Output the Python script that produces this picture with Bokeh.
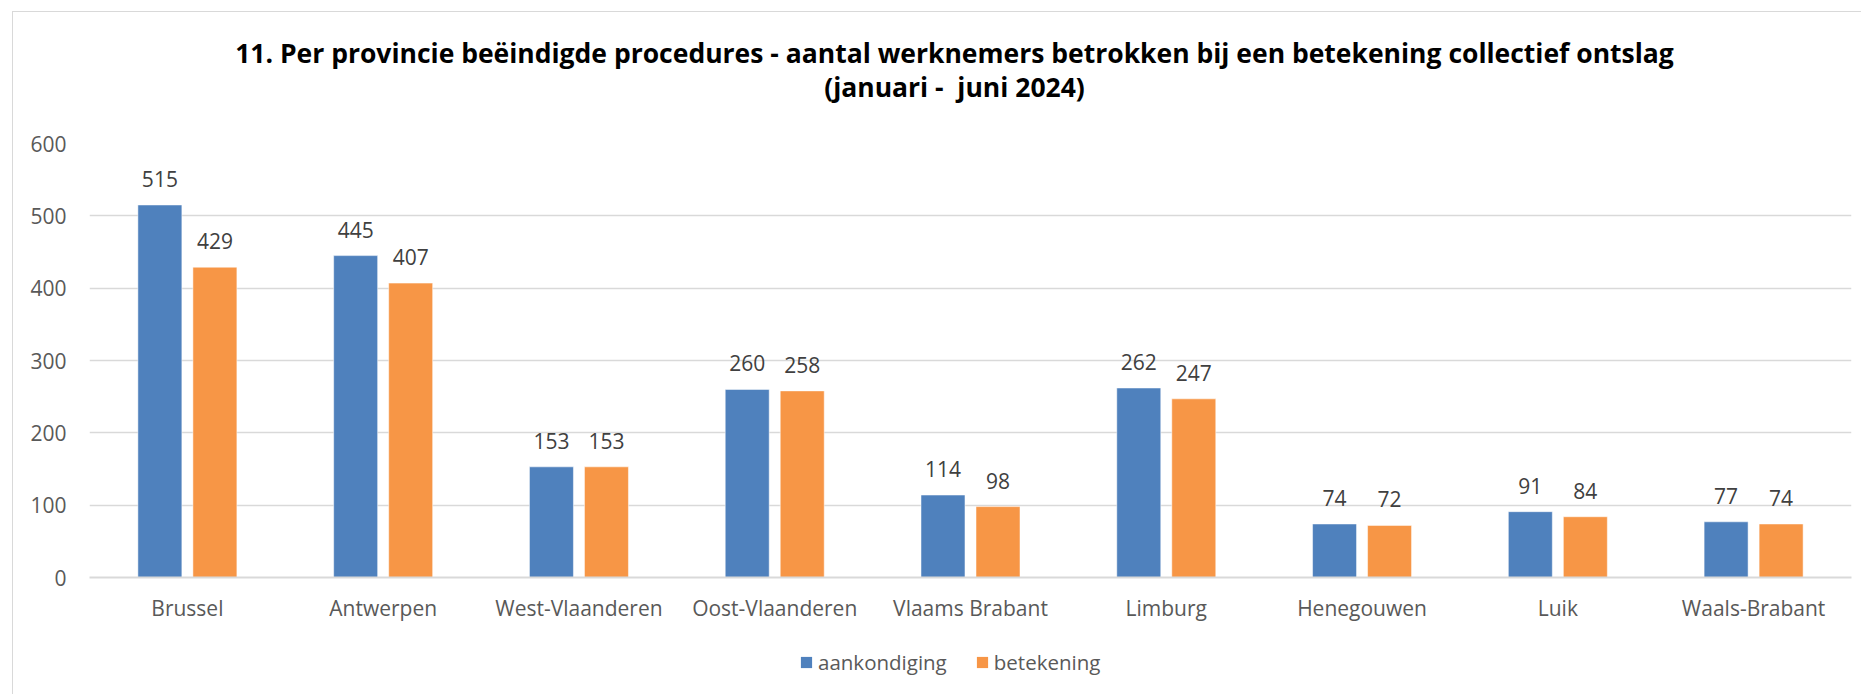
from bokeh.plotting import figure
from bokeh.layouts import column
from bokeh.models import (ColumnDataSource, FactorRange, Range1d, FixedTicker, Legend, LegendItem)
from bokeh.transform import dodge
from bokeh.core.properties import value
from bokeh.embed import file_html
from bokeh.resources import INLINE

categories = ["Brussel", "Antwerpen", "West-Vlaanderen", "Oost-Vlaanderen", "Vlaams Brabant",
              "Limburg", "Henegouwen", "Luik", "Waals-Brabant"]
aankondiging = [515, 445, 153, 260, 114, 262, 74, 91, 77]
betekening = [429, 407, 153, 258, 98, 247, 72, 84, 74]
series_names = ["aankondiging", "betekening"]
y_ticks = [0, 100, 200, 300, 400, 500, 600]
title_lines = ["11. Per provincie beëindigde procedures - aantal werknemers betrokken bij een betekening collectief ontslag",
               "(januari -\u00a0 juni 2024)"]

BLUE = "#4F81BD"
ORANGE = "#F79646"
FONT = "Open Sans"
W = 1848
FRAME_W = 1762  # frames of the stacked figures are aligned to the main chart's frame

# ---------------- title strip ----------------
pt = figure(width=W, height=110, x_range=Range1d(0, FRAME_W), y_range=Range1d(110, 0),
            min_border=0, x_axis_location=None, y_axis_location=None,
            output_backend="svg", toolbar_location=None)
pt.grid.visible = False
pt.outline_line_color = None
pt.text(x=[865, 865], y=[40, 74], text=title_lines, text_align="center",
        text_baseline="alphabetic", text_font=value(FONT), text_font_style="bold",
        text_font_size="26.5px", text_color="black")

# ---------------- main chart ----------------
src = ColumnDataSource(dict(
    cat=categories,
    a=aankondiging,
    b=betekening,
    a_txt=[str(v) for v in aankondiging],
    b_txt=[str(v) for v in betekening],
))

p = figure(
    x_range=FactorRange(*categories),
    y_range=Range1d(0, 600),
    width=W, height=515,
    min_border_left=76, min_border_top=21, min_border_right=10, min_border_bottom=60,
    output_backend="svg", toolbar_location=None,
)
p.outline_line_color = None
p.background_fill_color = "white"

bw = 0.2247
off = 0.1405
ra = p.vbar(x=dodge("cat", -off, range=p.x_range), top="a", width=bw, source=src,
            fill_color=BLUE, line_color="white", line_alpha=0.5, line_width=1)
rb = p.vbar(x=dodge("cat", off, range=p.x_range), top="b", width=bw, source=src,
            fill_color=ORANGE, line_color="white", line_alpha=0.5, line_width=1)

p.text(x=dodge("cat", -off, range=p.x_range), y="a", text="a_txt", source=src,
       text_align="center", text_baseline="alphabetic", y_offset=-26,
       text_font=value(FONT), text_font_size="21px", text_color="#404040")
p.text(x=dodge("cat", off, range=p.x_range), y="b", text="b_txt", source=src,
       text_align="center", text_baseline="alphabetic", y_offset=-26,
       text_font=value(FONT), text_font_size="21px", text_color="#404040")

p.yaxis.ticker = FixedTicker(ticks=y_ticks)
p.yaxis.axis_line_color = None
p.yaxis.major_tick_line_color = None
p.yaxis.minor_tick_line_color = None
p.yaxis.major_tick_out = 0
p.yaxis.major_label_standoff = 23
p.yaxis.major_label_text_font = FONT
p.yaxis.major_label_text_font_size = "21px"
p.yaxis.major_label_text_color = "#595959"

p.xaxis.axis_line_color = "#D9D9D9"
p.xaxis.axis_line_width = 2
p.xaxis.major_tick_line_color = None
p.xaxis.minor_tick_line_color = None
p.xaxis.major_tick_out = 0
p.xaxis.major_label_standoff = 16
p.xaxis.major_label_text_font = FONT
p.xaxis.major_label_text_font_size = "21px"
p.xaxis.major_label_text_color = "#595959"

p.xgrid.grid_line_color = None
p.ygrid.grid_line_color = "#D9D9D9"
p.ygrid.grid_line_width = 1.5

# ---------------- legend strip ----------------
pl = figure(width=W, height=57, x_range=Range1d(0, 1), y_range=Range1d(0, 1),
            min_border=0, x_axis_location=None, y_axis_location=None,
            output_backend="svg", toolbar_location=None)
pl.grid.visible = False
pl.outline_line_color = None
la = pl.vbar(x=[0.5], top=[0], bottom=[0], width=0.0, fill_color=BLUE, line_color=None)
lb = pl.vbar(x=[0.5], top=[0], bottom=[0], width=0.0, fill_color=ORANGE, line_color=None)
legend = Legend(items=[LegendItem(label=series_names[0], renderers=[la]),
                       LegendItem(label=series_names[1], renderers=[lb])],
                orientation="horizontal", location=(710, 18),
                glyph_width=14, glyph_height=14, label_standoff=5, spacing=28,
                padding=0, margin=0,
                label_text_font=FONT, label_text_font_size="20.5px", label_text_color="#595959",
                border_line_alpha=0, background_fill_alpha=0)
pl.add_layout(legend, "center")

layout = column(pt, p, pl, spacing=0,
                styles={"margin-top": "11px", "margin-left": "12px",
                        "border-left": "1px solid #D9D9D9", "border-top": "1px solid #D9D9D9"})

open("out.html", "w").write(file_html(layout, INLINE))
